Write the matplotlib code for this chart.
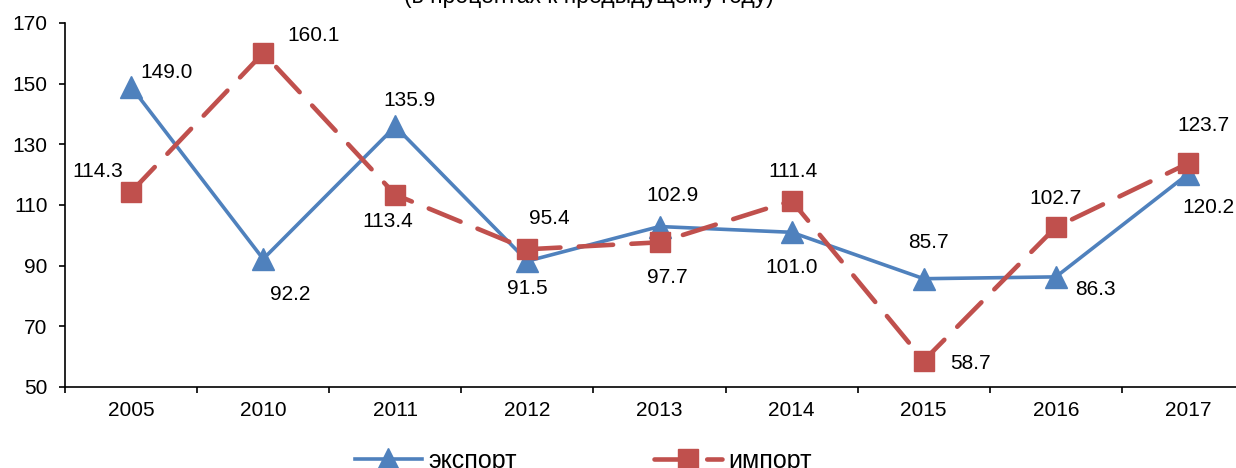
import matplotlib
matplotlib.use('Agg')
import matplotlib.pyplot as plt
import numpy as np

plt.rcParams['font.family'] = ['Liberation Sans', 'DejaVu Sans']

years = ['2005', '2010', '2011', '2012', '2013', '2014', '2015', '2016', '2017']
export = [149.0, 92.2, 135.9, 91.5, 102.9, 101.0, 85.7, 86.3, 120.2]
imports = [114.3, 160.1, 113.4, 95.4, 97.7, 111.4, 58.7, 102.7, 123.7]

# label offsets in pixels (dx, dy), dy positive = up
export_off = [(36, 14), (27, -36), (14, 26), (0, -27), (13, 31), (0, -35), (5, 36), (40, -13), (20, -33)]
import_off = [(-33, 20), (50, 18), (-8, -27), (22, 31), (8, -35), (1, 29), (47, -3), (0, 29), (15, 38)]

blue = '#4F81BD'
red = '#C0504D'
fs = 15

fig = plt.figure(figsize=(12.36, 4.68), dpi=100)
ax = fig.add_axes([65/1236, 1-387/468, (1254-65)/1236, (387-23)/468])

x = np.arange(len(years))
ax.plot(x, export, color=blue, lw=2.6, marker='^', markersize=16,
        label='экспорт', zorder=3)
ax.plot(x, imports, color=red, lw=3.3, linestyle=(0, (7.5, 4)), dash_capstyle='round',
        marker='s', markersize=14, label='импорт', zorder=4)

for i in range(len(years)):
    ax.annotate('%.1f' % export[i], (x[i], export[i]), xytext=export_off[i],
                textcoords='offset pixels', ha='center', va='center', fontsize=fs)
    ax.annotate('%.1f' % imports[i], (x[i], imports[i]), xytext=import_off[i],
                textcoords='offset pixels', ha='center', va='center', fontsize=fs)

ax.set_xlim(-0.5, len(years) - 0.5)
ax.set_ylim(50, 170)
ax.set_yticks(range(50, 171, 20))
ax.set_xticks(x)
ax.set_xticklabels(years)
ax.set_xticks(np.arange(-0.5, len(years), 1), minor=True)
ax.tick_params(axis='x', which='major', length=0, pad=10, labelsize=fs)
ax.tick_params(axis='x', which='minor', length=4.5, width=1.2, direction='out')
ax.tick_params(axis='y', length=4.5, width=1.2, pad=8, labelsize=fs)

for s in ['top', 'right']:
    ax.spines[s].set_visible(False)
for s in ['left', 'bottom']:
    ax.spines[s].set_linewidth(1.2)

fig.text(589/1236, 1-3/468, '(в процентах к предыдущему году)', ha='center',
         va='baseline', fontsize=16.5)

fig.legend(loc='center', bbox_to_anchor=(583/1236, 1-461/468), ncol=2,
           frameon=False, fontsize=18, handlelength=2.7, columnspacing=5.5,
           handletextpad=0.25)

plt.savefig('out.png')
plt.close()
